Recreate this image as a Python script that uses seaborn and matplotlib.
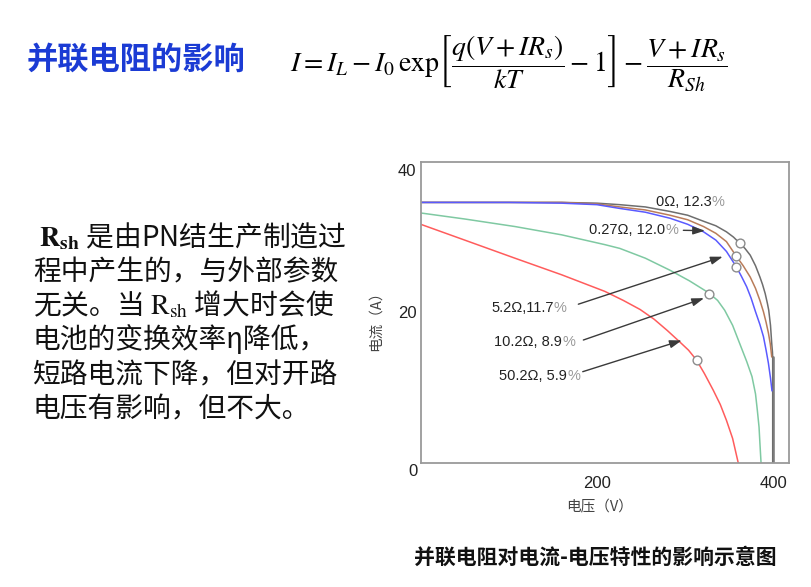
import numpy as np
import pandas as pd
import matplotlib
matplotlib.use("Agg")
import matplotlib.pyplot as plt
import matplotlib.transforms as mtransforms
import seaborn as sns

# ---------------- data ----------------
gray_v = [0, 100, 160, 200, 226, 255, 283, 303, 321, 335, 347, 355, 362, 368, 374, 380, 385,
          388, 391, 393.5, 395, 397, 398.4, 399.2, 399.5, 399.5]
gray_i = [34.6, 34.6, 34.6, 34.5, 34.3, 34.0, 33.4, 32.9, 32.1, 31.5, 30.7, 30.0, 29.2, 28.5, 27.6,
          26.2, 24.7, 23.7, 22.5, 21.2, 20.3, 18.3, 15.9, 14.8, 14.1, 0]

brown_v = [0, 100, 160, 200, 226, 255, 283, 303, 321, 335, 347, 358, 366, 374, 380, 385, 389,
           392, 394.6, 396.8, 398.4]
brown_i = [34.6, 34.6, 34.6, 34.4, 34.0, 33.6, 32.9, 32.3, 31.4, 30.5, 29.4, 27.5, 26.2, 24.7,
           23.2, 21.6, 20.1, 18.7, 17.3, 15.8, 14.1]

blue_v = [0, 100, 160, 200, 226, 255, 283, 303, 321, 335, 347, 358, 364, 370, 375, 380, 385,
          389, 392, 394.6, 397, 398.7]
blue_i = [34.6, 34.6, 34.5, 34.3, 33.8, 33.3, 32.5, 31.7, 30.7, 29.6, 28.1, 26.1, 24.8, 23.4,
          21.9, 20.1, 18.4, 16.8, 15.0, 13.3, 11.3, 9.6]

green_v = [0, 50, 107, 160, 209, 226, 255, 283, 305, 327, 337, 345, 354, 362, 370, 376, 380,
           382, 384, 385, 386.3]
green_i = [33.2, 32.4, 31.4, 30.3, 29.0, 28.5, 27.2, 25.6, 24.2, 22.6, 21.6, 20.3, 18.3, 15.9,
           13.5, 11.5, 9.2, 7.1, 4.8, 2.65, 0]

red_v = [0, 50, 107, 160, 209, 230, 249, 265, 280, 294, 304, 313, 322, 332, 340, 347, 354, 360.5]
red_i = [31.7, 29.6, 27.2, 25.0, 22.8, 21.6, 20.4, 19.1, 17.6, 16.1, 15.0, 13.7, 11.9, 9.7,
         7.8, 5.7, 3.3, 0]

series_names = ["0Ω", "0.27Ω", "5.2Ω", "10.2Ω", "50.2Ω"]
series_colors = ["#6e6e6e", "#b97c5a", "#5a5aff", "#7fc9a2", "#ff5c5c"]

mpp_v = [362.4, 357.9, 357.9, 327.2, 313.3]
mpp_i = [29.2, 27.5, 26.1, 22.5, 13.7]

label_texts = ["0Ω, 12.3", "0.27Ω, 12.0", "5.2Ω,11.7", "10.2Ω, 8.9", "50.2Ω, 5.9"]
x_ticks = [200, 400]
y_ticks = [20, 40]

title_text = "并联电阻的影响"
body_lines = [
    r" $\mathbf{R}_{\mathbf{sh}}$ 是由PN结生产制造过",
    "程中产生的，与外部参数",
    r"无关。当 $\mathrm{R}_{\mathrm{sh}}$ 增大时会使",
    "电池的变换效率η降低，",
    "短路电流下降，但对开路",
    "电压有影响，但不大。",
]
caption_text = "并联电阻对电流-电压特性的影响示意图"
xlabel_text = "电压（V）"
ylabel_text = "电流（A）"

# ---------------- style ----------------
sns.set_theme(style="white")
plt.rcParams["font.family"] = ["Liberation Sans", "Noto Sans CJK SC", "DejaVu Sans"]
plt.rcParams["mathtext.fontset"] = "stix"

W, H = 812, 587
fig = plt.figure(figsize=(W / 100, H / 100), dpi=100, facecolor="white")

def fx(px):
    return px / W

def fy(py):
    return 1 - py / H

ax_l, ax_r, ax_t, ax_b = 420.7, 789, 161.7, 463.3
ax = fig.add_axes([fx(ax_l), fy(ax_b), (ax_r - ax_l) / W, (ax_b - ax_t) / H])

frames = []
for name, v, i in zip(series_names,
                      [gray_v, brown_v, blue_v, green_v, red_v],
                      [gray_i, brown_i, blue_i, green_i, red_i]):
    frames.append(pd.DataFrame({"V": v, "I": i, "R": name}))
df = pd.concat(frames, ignore_index=True)

sns.lineplot(data=df, x="V", y="I", hue="R", hue_order=series_names,
             palette=series_colors, sort=False, estimator=None,
             linewidth=1.1, legend=False, ax=ax)

# thick gray vertical at Voc
ax.plot([gray_v[-2], gray_v[-1]], [gray_i[-2], gray_i[-1]], color="#8a8a8a", lw=2.0, zorder=1.5)

mpp_df = pd.DataFrame({"V": mpp_v, "I": mpp_i})
sns.scatterplot(data=mpp_df, x="V", y="I", s=40, facecolor="white",
                edgecolor="#8c8c8c", linewidth=1.0, zorder=5, ax=ax)

ax.set_xlim(0, 418)
ax.set_ylim(0, 40)
ax.set_xticks(x_ticks)
ax.set_yticks(y_ticks)
ax.set_xticklabels([str(t) for t in x_ticks])
ax.set_yticklabels([str(t) for t in y_ticks])
ax.tick_params(axis="both", length=0, labelsize=12, colors="#222222")
ax.tick_params(axis="x", pad=9)
ax.tick_params(axis="y", pad=3)
ax.set_xlabel("")
ax.set_ylabel("")
for sp in ax.spines.values():
    sp.set_color("#9a9a9a")
    sp.set_linewidth(1.3)
    sp.set_visible(True)

# shift "40" label slightly down like reference
fig.canvas.draw()
for lab in ax.get_yticklabels():
    if lab.get_text() == "40":
        lab.set_transform(lab.get_transform() + mtransforms.ScaledTranslation(0, -8 / 100, fig.dpi_scale_trans))

fig.text(fx(413), fy(472), "0", fontsize=12, color="#222222", ha="center", va="center")

# annotations
ann_fs = 10.5
pct_w = 9.4  # points width of '%'
label_pos = [
    (345.0, 34.6, None),
    (292.4, 30.9, ((298.1, 30.9), (322.7, 30.85))),
    (165.7, 20.6, ((178.9, 21.1), (342.8, 27.4))),
    (175.1, 16.1, ((184.6, 16.35), (321.6, 21.9))),
    (180.8, 11.6, ((183.9, 12.15), (296.3, 16.3))),
]
for txt, (lx, ly, arr) in zip(label_texts, label_pos):
    ax.annotate(txt, xy=(lx, ly), xytext=(-pct_w, 0), textcoords="offset points",
                ha="right", va="center", fontsize=ann_fs, color="#222222")
    ax.annotate("%", xy=(lx, ly), ha="right", va="center", fontsize=ann_fs, color="#9a9a9a")
    if arr is not None:
        ax.annotate("", xy=arr[1], xytext=arr[0],
                    arrowprops=dict(arrowstyle="-|>,head_length=0.6,head_width=0.2",
                                    color="#3a3a3a", lw=1.0, shrinkA=0, shrinkB=0))

# axis labels
fig.text(fx(600), fy(507), xlabel_text, fontsize=10.5, color="#444444",
         ha="center", va="center", family=["Noto Sans CJK SC", "DejaVu Sans"])
fig.text(fx(376), fy(317), ylabel_text, fontsize=10.5, color="#444444", rotation=90,
         ha="center", va="center", family=["Noto Sans CJK SC", "DejaVu Sans"])

# title & formula
fig.text(fx(27), fy(60), title_text, fontsize=22.5, color="#1b3bd4", weight="bold",
         ha="left", va="center", family=["Noto Sans CJK SC", "DejaVu Sans"])
fig.text(fx(290), fy(64),
         r"$I = I_L - I_0\,\mathrm{exp}\left[\dfrac{q(V+IR_s)}{kT} - 1\right] - \dfrac{V+IR_s}{R_{Sh}}$",
         fontsize=20, color="black", ha="left", va="center")

# body text
body_y = [238, 272, 306, 340, 375, 409]
body_x = [33, 33, 33, 33, 33, 33]
for line, bx, by in zip(body_lines, body_x, body_y):
    fig.text(fx(bx), fy(by), line, fontsize=20, color="#111111", ha="left", va="center",
             family=["Noto Sans CJK SC", "DejaVu Sans"])

# caption
fig.text(fx(595), fy(557), caption_text, fontsize=15, weight="bold", color="#111111",
         ha="center", va="center", family=["Noto Sans CJK SC", "DejaVu Sans"])

fig.savefig("out.png", dpi=100, facecolor="white")
